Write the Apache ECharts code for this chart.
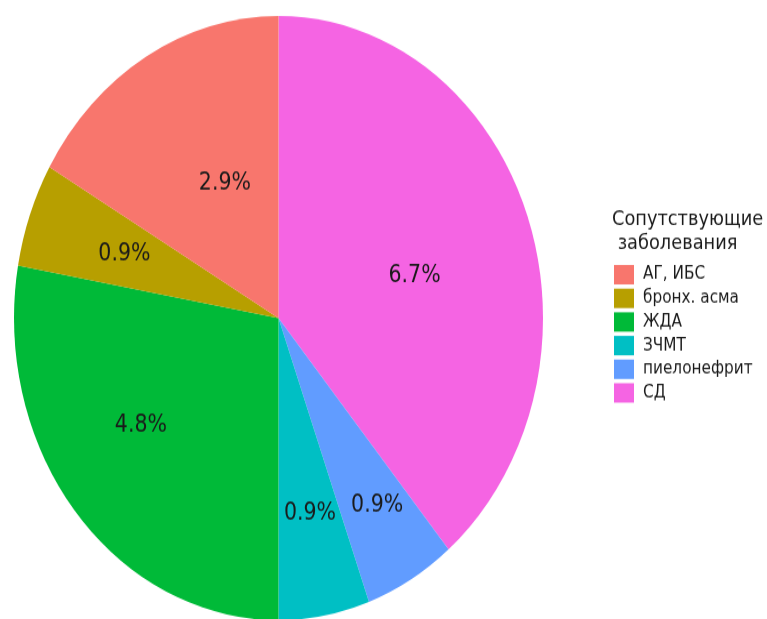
<!DOCTYPE html>
<html>
<head>
<meta charset="utf-8">
<script src="https://cdn.jsdelivr.net/npm/echarts@6/dist/echarts.min.js"></script>
<style>
html,body{margin:0;padding:0;background:#fff;overflow:hidden;}
#wrap{width:767px;height:619px;overflow:hidden;position:relative;}
#chart{width:767px;height:542px;transform-origin:0 0;transform:scaleY(1.1421);}
</style>
</head>
<body>
<div id="wrap"><div id="chart"></div></div>
<script>
// categories in legend order
const categories = ['АГ, ИБС', 'бронх. асма', 'ЖДА', 'ЗЧМТ', 'пиелонефрит', 'СД'];
// slice sizes (60°, 20°, 100°, 20°, 20°, 140°)
const counts = [3, 1, 5, 1, 1, 7];
// percentage labels as printed on the chart
const percentLabels = ['2.9%', '0.9%', '4.8%', '0.9%', '0.9%', '6.7%'];
const colors = ['#F8766D', '#B79F00', '#00BA38', '#00BFC4', '#619CFF', '#F564E3'];
const legendTitle = 'Сопутствующие\n заболевания';

// label nudges (px) from the default inside label position, by category index
const labelNudge = [[14, -1], [-27, -10], [-34, 7], [8, 38], [31, 47], [9, 9]];

const pieData = categories.map((c, i) => ({
  name: c, value: counts[i], itemStyle: { color: colors[i] },
  label: { formatter: percentLabels[i] }
})).reverse();

const chart = echarts.init(document.getElementById('chart'), null, { renderer: 'canvas' });
chart.setOption({
  animation: false,
  backgroundColor: '#fff',
  title: {
    text: legendTitle,
    left: 607, top: 177,
    textStyle: { fontFamily: 'DejaVu Sans', fontSize: 17.8, fontWeight: 'normal', color: '#1a1a1a', lineHeight: 21 }
  },
  legend: {
    data: categories,
    orient: 'vertical',
    left: 609, top: 227,
    itemWidth: 20, itemHeight: 17, itemGap: 3.7,
    icon: 'rect',
    selectedMode: false,
    textStyle: { fontFamily: 'DejaVu Sans', fontSize: 15.3, color: '#1a1a1a', padding: [0,0,0,4] }
  },
  series: [{
    type: 'pie',
    center: [278.5, 278.5],
    radius: [0, 264.5],
    startAngle: 90,
    clockwise: true,
    silent: true,
    avoidLabelOverlap: false,
    emphasis: { disabled: true },
    itemStyle: { borderWidth: 0 },
    label: {
      show: true,
      position: 'inside',
      fontFamily: 'DejaVu Sans',
      fontSize: 20.5,
      color: '#1a1a1a'
    },
    labelLine: { show: false },
    labelLayout: function (p) {
      const i = categories.length - 1 - p.dataIndex;
      const n = labelNudge[i] || [0, 0];
      return { dx: n[0], dy: n[1], hideOverlap: false };
    },
    data: pieData
  }]
});
</script>
</body>
</html>
